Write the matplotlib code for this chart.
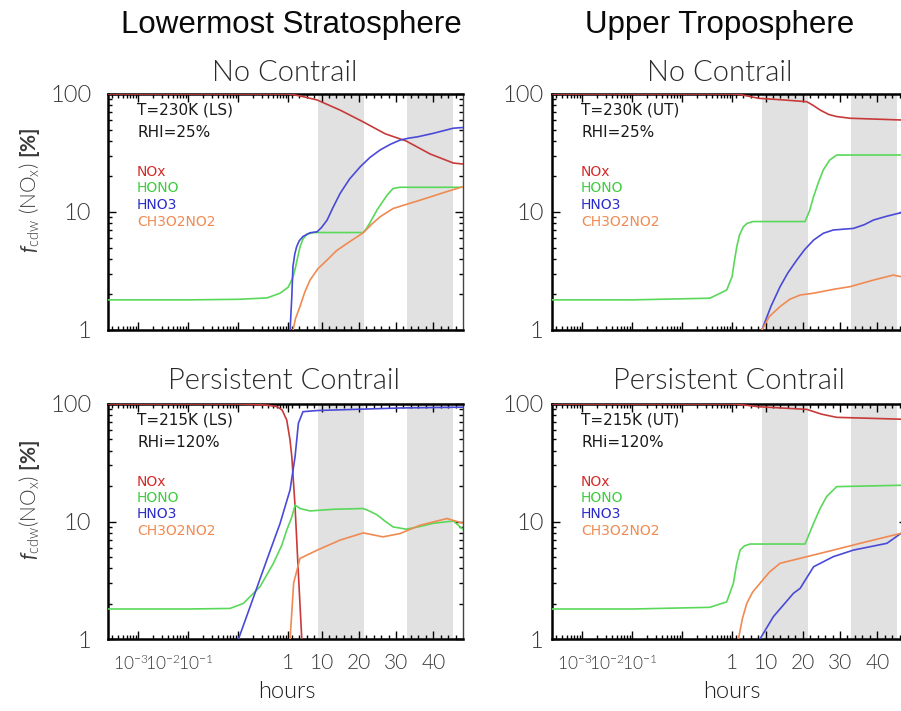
import numpy as np
import matplotlib
matplotlib.use("Agg")
import matplotlib.pyplot as plt
from matplotlib import font_manager
from matplotlib.ticker import FixedLocator, NullFormatter

# ---------------------------------------------------------------------------
# Fonts
# ---------------------------------------------------------------------------
_names = {f.name for f in font_manager.fontManager.ttflist}


def pick(*cands):
    for c in cands:
        if c in _names:
            return c
    return "DejaVu Sans"


THIN = pick("Lato", "Open Sans", "DejaVu Sans")
THIN_W = 300
SANS = pick("Liberation Sans", "DejaVu Sans")
LEG = "DejaVu Sans"

plt.rcParams["mathtext.fontset"] = "custom"
plt.rcParams["mathtext.rm"] = THIN + ":weight=300"
plt.rcParams["mathtext.it"] = THIN + ":italic"
plt.rcParams["mathtext.bf"] = THIN + ":bold"

# ---------------------------------------------------------------------------
# Data: time in hours after emission, share of emitted NOx in percent
# ---------------------------------------------------------------------------
HOURS_PER_UNIT = 13.44          # linear part of the time axis (above 1 h)
T_START, T_END = 10 ** -3.6, 48.0

NIGHT_START = [9.0, 33.0]
NIGHT_END = [21.3, 45.3]

SPECIES = ["NOx", "HONO", "HNO3", "CH3O2NO2"]
LINE_COLORS = ["#c83a3a", "#5ad85a", "#4a4ad8", "#f08a52"]
TEXT_COLORS = ["#d42a2a", "#3ccc3c", "#2a2ac8", "#f08a52"]

# Lowermost stratosphere, no contrail (T=230K, RHI=25%)
ls_nc_nox_t = [T_START, 0.1, 1.0, 2.3, 5.0, 8.8, 15.0, 21.2, 27.1, 32.7, 39.2, 45.4, 48.0]
ls_nc_nox_v = [100, 100, 100, 99, 95, 89, 73, 58, 46, 40, 31, 26, 25.5]
ls_nc_hono_t = [T_START, 0.01, 0.1, 0.38, 0.69, 1.0, 1.6, 2.3, 2.9, 3.4, 4.2, 5.0, 6.1, 8.0,
                21.2, 22.0, 23.0, 24.9, 27.6, 29.2, 31.0, 48.0]
ls_nc_hono_v = [1.8, 1.8, 1.82, 1.87, 2.05, 2.3, 2.5, 2.8, 3.3, 3.9, 5.05, 5.9, 6.5, 6.7,
                6.7, 7.2, 8.1, 10.4, 13.9, 15.8, 16.2, 16.2]
ls_nc_hno3_t = [1.3, 1.54, 2.0, 2.3, 2.8, 3.3, 4.0, 5.0, 6.9, 8.8, 10.0, 11.5, 13.0, 15.0,
                17.5, 20.4, 23.0, 25.7, 28.5, 31.1, 33.5, 35.7, 40.0, 45.4, 48.0]
ls_nc_hno3_v = [0.5, 1.0, 1.91, 3.44, 4.4, 5.08, 5.7, 6.2, 6.67, 6.8, 7.4, 8.55, 10.8, 14.4,
                19.0, 24.2, 29.0, 33.5, 37.5, 40.7, 42.3, 43.3, 46.4, 51.3, 52.0]
ls_nc_pan_t = [2.2, 2.34, 3.0, 4.2, 5.5, 6.9, 9.0, 11.5, 14.0, 16.9, 21.2, 23.5, 25.7, 29.2,
               32.0, 36.5, 43.7, 48.0]
ls_nc_pan_v = [0.6, 1.0, 1.25, 1.58, 2.1, 2.65, 3.3, 3.92, 4.7, 5.43, 6.67, 7.9, 9.1, 10.7,
               11.4, 12.6, 14.9, 16.4]

# Upper troposphere, no contrail (T=230K, RHI=25%)
ut_nc_nox_t = [T_START, 1.0, 3.2, 8.07, 15.0, 21.1, 22.8, 24.7, 27.0, 29.1, 32.7, 48.0]
ut_nc_nox_v = [100, 100, 99, 92, 89, 86, 80, 73, 67, 64.4, 62.3, 60.0]
ut_nc_hono_t = [T_START, 0.01, 0.36, 0.78, 1.0, 1.6, 2.26, 3.0, 4.04, 5.0, 6.6, 20.6, 21.8,
                22.9, 24.2, 25.5, 27.2, 29.1, 48.0]
ut_nc_hono_v = [1.8, 1.8, 1.86, 2.18, 2.83, 3.8, 5.08, 6.4, 7.5, 8.0, 8.3, 8.3, 10.2,
                13.5, 17.8, 22.7, 27.5, 30.4, 30.4]
ut_nc_hno3_t = [8.5, 9.0, 11.5, 13.9, 16.0, 18.4, 20.5, 22.9, 25.5, 28.2, 33.6, 36.5, 39.0,
                42.5, 46.4, 48.0]
ut_nc_hno3_v = [0.7, 1.0, 1.6, 2.33, 3.05, 3.92, 4.8, 5.78, 6.6, 7.04, 7.26, 7.8, 8.55,
                9.2, 9.87, 10.2]
ut_nc_pan_t = [8.5, 9.0, 11.0, 13.9, 16.5, 19.3, 22.9, 28.2, 32.7, 39.0, 44.3, 46.4, 48.0]
ut_nc_pan_v = [0.7, 1.0, 1.3, 1.58, 1.82, 1.98, 2.05, 2.21, 2.33, 2.65, 2.92, 2.83, 2.85]

# Lowermost stratosphere, persistent contrail (T=215K, RHi=120%)
ls_pc_nox_t = [T_START, 0.1, 0.375, 0.6, 0.76, 0.94, 1.5, 2.0, 2.88, 3.77, 4.68, 5.0]
ls_pc_nox_v = [100, 100, 98, 95, 89, 73, 50, 35.7, 13.4, 3.6, 1.0, 0.5]
ls_pc_hono_t = [T_START, 0.01, 0.069, 0.128, 0.275, 0.508, 0.75, 0.94, 2.0, 2.88, 4.2, 6.9,
                13.1, 21.2, 22.8, 24.9, 27.0, 29.2, 32.7, 36.0, 40.0, 45.4, 48.0]
ls_pc_hono_v = [1.8, 1.8, 1.82, 2.01, 2.79, 4.4, 6.3, 8.45, 10.9, 13.8, 12.9, 12.3,
                12.7, 12.9, 12.3, 11.4, 10.1, 9.0, 8.6, 9.0, 9.65, 10.1, 8.6]
ls_pc_hno3_t = [0.08, 0.102, 0.174, 0.375, 0.69, 1.54, 2.88, 3.77, 5.0, 8.8, 31.1, 48.0]
ls_pc_hno3_v = [0.8, 1.0, 1.88, 4.7, 9.6, 18.6, 35.7, 68.5, 86.0, 88.0, 92.5, 94.0]
ls_pc_pan_t = [1.4, 1.54, 2.5, 4.2, 8.8, 15.0, 21.2, 26.5, 31.1, 36.5, 43.7, 48.0]
ls_pc_pan_v = [0.5, 1.0, 3.0, 4.85, 5.7, 6.95, 8.0, 7.4, 7.9, 9.3, 10.6, 9.65]

# Upper troposphere, persistent contrail (T=215K, RHi=120%)
ut_pc_nox_t = [T_START, 1.0, 3.2, 8.07, 21.1, 25.0, 29.1, 48.0]
ut_pc_nox_v = [100, 100, 99, 94.8, 90, 82, 77, 74]
ut_pc_hono_t = [T_START, 0.01, 0.36, 0.78, 1.35, 2.2, 3.15, 4.3, 5.84, 20.6, 22.9, 24.6,
                26.4, 29.1, 48.0]
ut_pc_hono_v = [1.8, 1.8, 1.86, 2.07, 2.98, 4.3, 5.7, 6.2, 6.43, 6.43, 9.65, 12.8,
                16.3, 19.8, 20.4]
ut_pc_hno3_t = [8.0, 8.5, 12.1, 17.5, 19.3, 22.9, 28.2, 33.6, 42.6, 46.4, 48.0]
ut_pc_hno3_v = [0.7, 1.0, 1.55, 2.45, 2.7, 4.12, 5.02, 5.71, 6.52, 7.93, 8.5]
ut_pc_pan_t = [2.5, 2.7, 3.8, 4.95, 6.5, 8.5, 11.0, 13.9, 21.1, 28.2, 35.4, 46.4, 48.0]
ut_pc_pan_v = [0.7, 1.0, 1.5, 2.01, 2.5, 2.98, 3.7, 4.41, 5.02, 5.71, 6.52, 7.93, 8.4]

# Tick labels of the hybrid time axis and where they are written (hours)
XLABELS = [r"$10^{-3}$", r"$10^{-2}$", r"$10^{-1}$", "1", "10", "20", "30", "40"]
XLABEL_POS = [7.2e-4, 3.16e-3, 1.45e-2, 1.0, 10.0, 20.0, 30.0, 40.0]
YTICKS = [1, 10, 100]
YLABELS = ["1", "10", "100"]

PANEL_SERIES = {
    "ls_nc": [(ls_nc_nox_t, ls_nc_nox_v), (ls_nc_hono_t, ls_nc_hono_v),
              (ls_nc_hno3_t, ls_nc_hno3_v), (ls_nc_pan_t, ls_nc_pan_v)],
    "ut_nc": [(ut_nc_nox_t, ut_nc_nox_v), (ut_nc_hono_t, ut_nc_hono_v),
              (ut_nc_hno3_t, ut_nc_hno3_v), (ut_nc_pan_t, ut_nc_pan_v)],
    "ls_pc": [(ls_pc_nox_t, ls_pc_nox_v), (ls_pc_hono_t, ls_pc_hono_v),
              (ls_pc_hno3_t, ls_pc_hno3_v), (ls_pc_pan_t, ls_pc_pan_v)],
    "ut_pc": [(ut_pc_nox_t, ut_pc_nox_v), (ut_pc_hono_t, ut_pc_hono_v),
              (ut_pc_hno3_t, ut_pc_hno3_v), (ut_pc_pan_t, ut_pc_pan_v)],
}
PANEL_HEAD = {
    "ls_nc": ("T=230K (LS)", "RHI=25%"),
    "ut_nc": ("T=230K (UT)", "RHI=25%"),
    "ls_pc": ("T=215K (LS)", "RHi=120%"),
    "ut_pc": ("T=215K (UT)", "RHi=120%"),
}


# ---------------------------------------------------------------------------
# Hybrid time scale: logarithmic up to 1 h, linear afterwards
# ---------------------------------------------------------------------------
def t_forward(t):
    t = np.clip(np.asarray(t, dtype=float), 1e-12, None)
    return np.where(t <= 1.0, np.log10(t), (t - 1.0) / HOURS_PER_UNIT)


def t_inverse(u):
    u = np.asarray(u, dtype=float)
    return np.where(u <= 0.0, 10.0 ** np.minimum(u, 0.0),
                    1.0 + HOURS_PER_UNIT * np.maximum(u, 0.0))


major_marks = [1e-3, 1e-2, 1e-1, 1.0, 10.0, 20.0, 30.0, 40.0]
minor_marks = [k * 10.0 ** e for e in range(-4, 0) for k in range(2, 10)
               if T_START <= k * 10.0 ** e < 1.0]
minor_marks += [h for h in range(2, 48, 2) if h % 10]

# ---------------------------------------------------------------------------
# Figure
# ---------------------------------------------------------------------------
W, H = 901, 711
fig = plt.figure(figsize=(W / 100, H / 100), dpi=100)
fig.patch.set_facecolor("white")

GREY_TXT = "#3a3a3a"


def px_axes(left, top, width, height):
    return fig.add_axes([left / W, 1 - (top + height) / H, width / W, height / H])


layout = {
    "ls_nc": (108, 94, 355, 236),
    "ut_nc": (552, 94, 355, 236),
    "ls_pc": (108, 404, 355, 235),
    "ut_pc": (552, 404, 355, 235),
}

for key, box in layout.items():
    ax = px_axes(*box)
    ax.set_xscale("function", functions=(t_forward, t_inverse))
    ax.set_yscale("log")
    ax.set_xlim(T_START, T_END)
    ax.set_ylim(1, 100)

    for s, e in zip(NIGHT_START, NIGHT_END):
        ax.axvspan(s, e, color="#e1e1e1", lw=0, zorder=0)

    for (t, v), col in zip(PANEL_SERIES[key], LINE_COLORS):
        ax.plot(t, v, color=col, lw=1.2, zorder=3, solid_joinstyle="round")

    # tick marks
    ax.xaxis.set_major_locator(FixedLocator(major_marks))
    ax.xaxis.set_minor_locator(FixedLocator(minor_marks))
    ax.xaxis.set_major_formatter(NullFormatter())
    ax.xaxis.set_minor_formatter(NullFormatter())
    ax.set_yticks(YTICKS)
    ax.set_yticklabels(YLABELS)
    ax.yaxis.set_minor_formatter(NullFormatter())
    left_col = key.startswith("ls")
    ax.tick_params(which="both", direction="in", top=True, right=True,
                   bottom=True, left=True, width=1.0, color="black")
    ax.tick_params(which="major", length=6)
    ax.tick_params(which="minor", length=3)
    ax.tick_params(axis="y", which="major", labelsize=17, labelcolor=GREY_TXT,
                   pad=12 if left_col else 6)
    for lbl in ax.get_yticklabels():
        lbl.set_fontfamily(THIN)
        lbl.set_fontweight(THIN_W)

    for side in ("left", "bottom", "top"):
        ax.spines[side].set_linewidth(1.8)
        ax.spines[side].set_color("black")
    ax.spines["right"].set_linewidth(1.0)
    ax.spines["right"].set_color("#444444")

    # bottom row: written time labels
    if key.endswith("pc"):
        trans = ax.get_xaxis_transform()
        for pos, txt in zip(XLABEL_POS, XLABELS):
            ax.text(pos, -0.103, txt, transform=trans, ha="center", va="center",
                    fontsize=12.5 if txt.startswith("$") else 15, color=GREY_TXT,
                    family=THIN, fontweight=THIN_W, clip_on=False)

    # panel header and species key
    h1, h2 = PANEL_HEAD[key]
    ax.text(0.082, 0.932, h1, transform=ax.transAxes, ha="left", va="center",
            fontsize=11, color="#1a1a1a", family=LEG)
    ax.text(0.082, 0.835, h2, transform=ax.transAxes, ha="left", va="center",
            fontsize=11, color="#1a1a1a", family=LEG)
    for i, (name, tc) in enumerate(zip(SPECIES, TEXT_COLORS)):
        ax.text(0.082, [0.669, 0.602, 0.530, 0.458][i], name,
                transform=ax.transAxes, ha="left", va="center",
                fontsize=10, color=tc, family=LEG)

# column titles and scenario titles
fig.text(291 / W, 1 - 25 / H, "Lowermost Stratosphere", ha="center", va="center",
         fontsize=22.5, family=SANS, color="#0a0a0a")
fig.text(720 / W, 1 - 25 / H, "Upper Troposphere", ha="center", va="center",
         fontsize=22.5, family=SANS, color="#0a0a0a")
for x, y, txt in [(285, 73, "No Contrail"), (720, 73, "No Contrail"),
                  (284, 381, "Persistent Contrail"), (729, 381, "Persistent Contrail")]:
    fig.text(x / W, 1 - y / H, txt, ha="center", va="center",
             fontsize=21, family=THIN, fontweight=THIN_W, color="#2a2a2a")

# axis titles
fig.text(30 / W, 1 - 190 / H, r"$f_{\rm cdw}$ (NO$_{\rm x}$) $\mathbf{[\%]}$",
         rotation=90, ha="center", va="center", fontsize=15, family=THIN,
         fontweight=THIN_W, color=GREY_TXT)
fig.text(30 / W, 1 - 500 / H, r"$f_{\rm cdw}$(NO$_{\rm x}$) $\mathbf{[\%]}$",
         rotation=90, ha="center", va="center", fontsize=15, family=THIN,
         fontweight=THIN_W, color=GREY_TXT)
fig.text(287 / W, 1 - 692 / H, "hours", ha="center", va="center",
         fontsize=17, family=THIN, fontweight=THIN_W, color="#1e1e1e")
fig.text(732 / W, 1 - 692 / H, "hours", ha="center", va="center",
         fontsize=17, family=THIN, fontweight=THIN_W, color="#1e1e1e")

fig.savefig("out.png", dpi=100, facecolor="white")
